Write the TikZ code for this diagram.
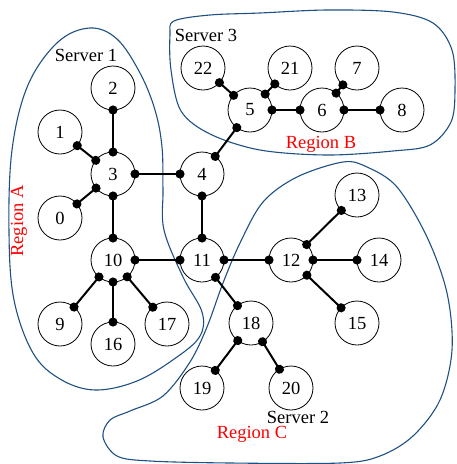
\documentclass[tikz,border=0pt]{standalone}
\usepackage{fontspec}
\setmainfont{Liberation Serif}
\usetikzlibrary{arrows.meta}
\definecolor{regblue}{RGB}{30,80,130}
\definecolor{regred}{RGB}{255,0,0}
\tikzset{
  vert/.style={circle,draw,line width=0.8pt,minimum size=44pt,inner sep=0pt,outer sep=0pt,font=\fontsize{18.5}{20}\selectfont},
  edge/.style={line width=2pt,{Circle[length=9pt,width=9pt]}-{Circle[length=9pt,width=9pt]},shorten <=-4.5pt,shorten >=-4.5pt},
  region/.style={draw=regblue,line width=1.1pt},
  lbl/.style={font=\fontsize{18.5}{20}\selectfont,inner sep=0pt},
  rlbl/.style={lbl,text=regred}
}
\begin{document}
\begin{tikzpicture}[x=1pt,y=-1pt]
\useasboundingbox (0,0) rectangle (456,464);
% regions
\draw[region] plot[smooth cycle,tension=0.6] coordinates{
 (90,28) (117,39) (140,73) (155,110) (162,147) (163,190) (164,230) (183,277) (202,312) (200,336) (177,357) (137,381) (95,390) (60,379) (33,353) (14,300) (9,233) (12,150) (28,85) (58,42)};
\draw[region] plot[smooth cycle,tension=0.55] coordinates{
 (174,21) (210,15) (260,13) (327,10) (393,12) (433,23) (452,50) (455,90) (451,122) (430,145) (393,151) (327,155) (260,150) (210,134) (181,111) (171,70) (170,35)};
\draw[region] plot[smooth cycle,tension=0.55] coordinates{
 (343,162) (297,177) (263,202) (240,243) (223,283) (207,327) (190,362) (163,396) (130,411) (110,420) (103,437) (117,456) (150,461) (230,463) (340,463) (380,456) (413,436) (440,400) (452,350) (447,293) (427,237) (397,187) (367,167)};
% nodes
\node[vert] (n0) at (60,218) {0};
\node[vert] (n1) at (60,132) {1};
\node[vert] (n2) at (113,88) {2};
\node[vert] (n3) at (113,174) {3};
\node[vert] (n4) at (202,174) {4};
\node[vert] (n5) at (250,110) {5};
\node[vert] (n6) at (322,110) {6};
\node[vert] (n7) at (357,68) {7};
\node[vert] (n8) at (402,110) {8};
\node[vert] (n9) at (60,324) {9};
\node[vert] (n10) at (113,260) {10};
\node[vert] (n11) at (202,260) {11};
\node[vert] (n12) at (291,260) {12};
\node[vert] (n13) at (357,195) {13};
\node[vert] (n14) at (379,260) {14};
\node[vert] (n15) at (357,323) {15};
\node[vert] (n16) at (113,344) {16};
\node[vert] (n17) at (167,324) {17};
\node[vert] (n18) at (251,323) {18};
\node[vert] (n19) at (202,388) {19};
\node[vert] (n20) at (291,388) {20};
\node[vert] (n21) at (290,68) {21};
\node[vert] (n22) at (203,68) {22};
% edges
\draw[edge] (n2) -- (n3);
\draw[edge] (n1) -- (n3);
\draw[edge] (n0) -- (n3);
\draw[edge] (n3) -- (n4);
\draw[edge] (n4) -- (n5);
\draw[edge] (n22) -- (n5);
\draw[edge] (n21) -- (n5);
\draw[edge] (n5) -- (n6);
\draw[edge] (n7) -- (n6);
\draw[edge] (n6) -- (n8);
\draw[edge] (n3) -- (n10);
\draw[edge] (n4) -- (n11);
\draw[edge] (n10) -- (n11);
\draw[edge] (n10) -- (n9);
\draw[edge] (n10) -- (n16);
\draw[edge] (n10) -- (n17);
\draw[edge] (n11) -- (n12);
\draw[edge] (n11) -- (n18);
\draw[edge] (n12) -- (n13);
\draw[edge] (n12) -- (n14);
\draw[edge] (n12) -- (n15);
\draw[edge] (n18) -- (n19);
\draw[edge] (n18) -- (n20);
% labels
\node[lbl] (s1) at (86,55) {Server 1};
\node[lbl] (s3) at (206,35) {Server 3};
\node[lbl] (s2) at (298,417) {Server 2};
\node[rlbl] (ra) at (19,221) [rotate=90] {Region A};
\node[rlbl] (rb) at (321,144) {Region B};
\node[rlbl] (rc) at (252,434) {Region C};
\end{tikzpicture}
\end{document}
